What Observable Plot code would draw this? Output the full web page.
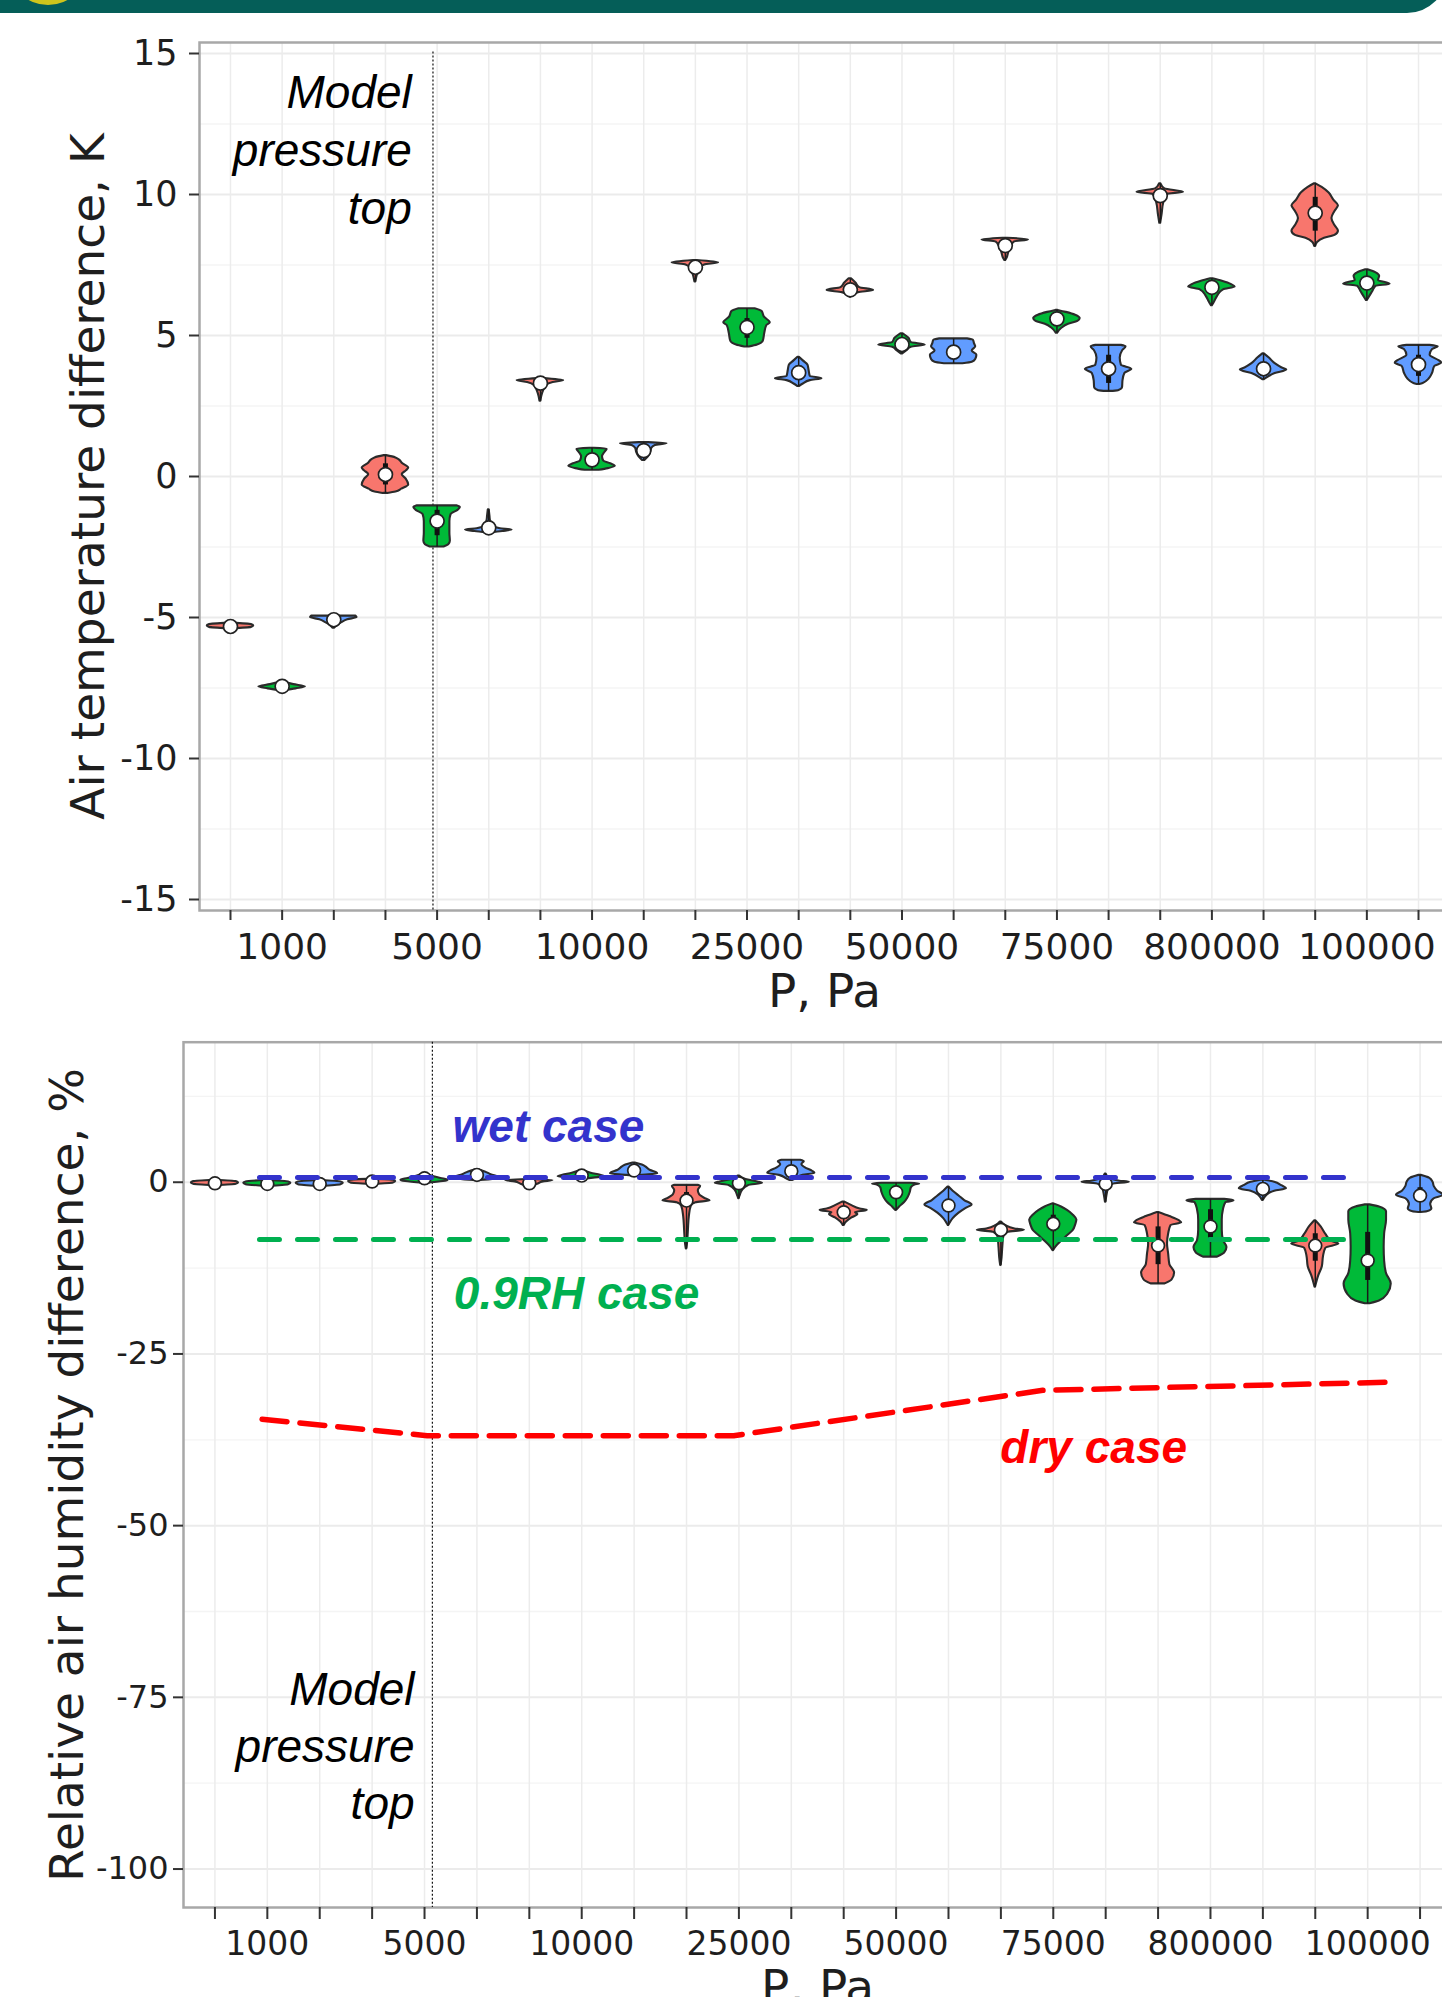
<!DOCTYPE html>
<html>
<head>
<meta charset="utf-8">
<script src="https://cdn.jsdelivr.net/npm/d3@7"></script>
<script src="https://cdn.jsdelivr.net/npm/@observablehq/plot@0.6"></script>
<style>
  html, body { margin: 0; padding: 0; background: #ffffff; overflow: hidden; }
  #page { position: relative; width: 1442px; height: 1997px; overflow: hidden; background: #ffffff; }
  #banner { position: absolute; left: 0; top: -47px; width: 1447px; height: 60px; background: #055e58; border-bottom-right-radius: 40px; z-index: 3; }
  #sun { position: absolute; left: 8px; top: -75px; width: 80px; height: 80px; border-radius: 50%; background: #cfc51c; z-index: 4; }
  #c1 { position: absolute; left: 0; top: 0; }
  #c2 { position: absolute; left: 0; top: 1000px; }
  svg { max-width: none !important; }
</style>
</head>
<body>
<div id="page">
  <div id="banner"></div>
  <div id="sun"></div>
  <div id="c1"></div>
  <div id="c2"></div>
</div>
<script>
// ---------------- DATA ----------------
const levels = ["1000", "5000", "10000", "25000", "50000", "75000", "800000", "100000"];
const casesPerLevel = 3;
const caseColors = ["#F8766D", "#00BA38", "#619CFF"];

// Top panel: air temperature difference, K — violin profiles [value, relative half-width]
const tempProfiles = [
  [[-5.20,0.08],[-5.25,0.9],[-5.30,1.0],[-5.35,0.9],[-5.40,0.08]],
  [[-7.30,0.1],[-7.38,0.5],[-7.46,1.0],[-7.53,0.6],[-7.60,0.1]],
  [[-4.95,0.95],[-5.0,1.0],[-5.08,0.6],[-5.18,0.35],[-5.28,0.15],[-5.38,0.04]],
  [[0.74,0.05],[0.66,0.45],[0.57,0.62],[0.45,0.75],[0.3,1.0],[0.2,0.9],[0.07,0.72],[-0.1,0.9],[-0.3,1.0],[-0.45,0.7],[-0.55,0.45],[-0.6,0.1]],
  [[-1.04,0.85],[-1.1,1.0],[-1.2,0.9],[-1.35,0.6],[-1.6,0.55],[-2.0,0.55],[-2.3,0.57],[-2.42,0.5],[-2.5,0.3]],
  [[-1.18,0.02],[-1.4,0.05],[-1.6,0.08],[-1.75,0.15],[-1.85,0.5],[-1.9,1.0],[-1.95,0.6],[-2.0,0.08]],
  [[3.47,0.08],[3.4,1.0],[3.33,0.55],[3.22,0.25],[3.05,0.14],[2.85,0.06],[2.67,0.02]],
  [[1.0,0.1],[0.97,0.65],[0.85,0.55],[0.7,0.45],[0.55,0.5],[0.45,0.8],[0.36,1.0],[0.28,0.7],[0.22,0.3]],
  [[1.2,0.2],[1.16,1.0],[1.1,0.5],[1.0,0.35],[0.85,0.3],[0.7,0.2],[0.57,0.05]],
  [[7.66,0.08],[7.58,1.0],[7.5,0.4],[7.38,0.2],[7.18,0.1],[6.9,0.02]],
  [[5.95,0.35],[5.85,0.65],[5.65,0.75],[5.45,1.0],[5.35,0.85],[5.06,0.76],[4.8,0.7],[4.66,0.45],[4.59,0.1]],
  [[4.23,0.03],[4.1,0.2],[3.95,0.4],[3.75,0.45],[3.55,0.5],[3.47,1.0],[3.4,0.5],[3.28,0.2],[3.19,0.03]],
  [[7.01,0.05],[6.85,0.25],[6.7,0.4],[6.6,1.0],[6.52,0.35],[6.42,0.1],[6.36,0.02]],
  [[5.06,0.05],[4.9,0.3],[4.75,0.4],[4.66,1.0],[4.58,0.4],[4.45,0.2],[4.35,0.03]],
  [[4.88,0.6],[4.83,0.85],[4.7,0.9],[4.6,0.95],[4.45,0.8],[4.3,1.0],[4.15,0.95],[4.05,0.8],[4.0,0.4]],
  [[8.45,0.1],[8.39,1.0],[8.32,0.4],[8.15,0.25],[7.95,0.15],[7.75,0.08],[7.66,0.02]],
  [[5.89,0.05],[5.82,0.4],[5.72,0.8],[5.6,1.0],[5.5,0.9],[5.4,0.5],[5.25,0.2],[5.08,0.03]],
  [[4.65,0.55],[4.6,0.75],[4.45,0.6],[4.2,0.5],[3.95,0.55],[3.8,1.0],[3.65,0.7],[3.4,0.62],[3.15,0.6],[3.05,0.45],[3.02,0.2]],
  [[10.38,0.03],[10.2,0.2],[10.08,1.0],[10.0,0.3],[9.7,0.15],[9.3,0.08],[8.98,0.02]],
  [[7.01,0.05],[6.92,0.45],[6.8,0.85],[6.72,1.0],[6.62,0.5],[6.4,0.25],[6.2,0.12],[6.06,0.02]],
  [[4.35,0.03],[4.2,0.25],[4.0,0.5],[3.85,0.8],[3.78,1.0],[3.65,0.5],[3.5,0.15],[3.43,0.03]],
  [[10.38,0.03],[10.25,0.3],[10.05,0.6],[9.8,0.8],[9.6,1.0],[9.4,0.85],[9.15,0.72],[8.9,0.85],[8.7,1.0],[8.55,0.85],[8.45,0.4],[8.3,0.1],[8.16,0.02]],
  [[7.33,0.05],[7.22,0.4],[7.1,0.55],[6.95,0.5],[6.82,1.0],[6.75,0.4],[6.55,0.25],[6.35,0.1],[6.24,0.02]],
  [[4.65,0.5],[4.6,0.85],[4.5,0.6],[4.3,0.5],[4.1,0.9],[4.02,1.0],[3.9,0.7],[3.65,0.6],[3.45,0.45],[3.3,0.2],[3.26,0.05]]
];
const tempMedians = [-5.32,-7.44,-5.08,0.07,-1.58,-1.82,3.31,0.59,0.92,7.42,5.29,3.68,6.62,4.68,4.41,8.19,5.59,3.82,9.96,6.71,3.82,9.34,6.86,3.97];
const tempBoxes = [
  [-5.32,-5.32],[-7.44,-7.44],[-5.08,-5.08],[-0.3,0.45],[-2.1,-1.2],[-1.82,-1.82],[3.31,3.31],[0.45,0.8],
  [0.92,0.92],[7.42,7.42],[4.9,5.6],[3.68,3.68],[6.62,6.62],[4.68,4.68],[4.2,4.6],[8.19,8.19],
  [5.4,5.7],[3.3,4.3],[9.96,9.96],[6.71,6.71],[3.82,3.82],[8.7,9.9],[6.86,6.86],[3.55,4.3]
];
const tempYTicks = [-15, -10, -5, 0, 5, 10, 15];
const tempYMinor = [-12.5, -7.5, -2.5, 2.5, 7.5, 12.5];

// Bottom panel: relative air humidity difference, %
const rhProfiles = [
  [[0.3,0.05],[0.1,0.9],[-0.1,1.0],[-0.3,0.9],[-0.5,0.05]],
  [[0.25,0.05],[0.05,0.9],[-0.15,1.0],[-0.35,0.9],[-0.6,0.05]],
  [[0.25,0.05],[0.05,0.9],[-0.15,1.0],[-0.35,0.9],[-0.6,0.05]],
  [[0.45,0.05],[0.3,0.9],[0.1,1.0],[-0.1,0.9],[-0.3,0.05]],
  [[1.3,0.05],[0.9,0.3],[0.55,0.7],[0.3,1.0],[0.1,0.8],[-0.15,0.05]],
  [[1.8,0.05],[1.5,0.35],[1.1,0.6],[0.7,0.95],[0.5,1.0],[0.25,0.1]],
  [[0.4,0.05],[0.25,1.0],[0.05,0.6],[-0.3,0.35],[-0.7,0.05]],
  [[1.7,0.05],[1.3,0.4],[1.0,0.8],[0.8,1.0],[0.6,0.5],[0.4,0.05]],
  [[2.8,0.05],[2.5,0.35],[2.1,0.55],[1.7,0.7],[1.4,0.95],[1.2,1.0],[1.0,0.3],[0.9,0.05]],
  [[-0.45,0.5],[-0.6,0.6],[-1.2,0.5],[-1.8,0.55],[-2.4,0.8],[-2.7,1.0],[-3.0,0.4],[-3.5,0.2],[-5,0.12],[-7,0.08],[-9,0.04],[-9.7,0.01]],
  [[0.9,0.03],[0.4,0.3],[0.05,0.8],[-0.15,1.0],[-0.5,0.4],[-1.2,0.15],[-2.0,0.05],[-2.4,0.01]],
  [[3.2,0.4],[3.0,0.55],[2.6,0.45],[2.1,0.6],[1.6,0.9],[1.3,1.0],[1.0,0.5],[0.5,0.2],[0.25,0.05]],
  [[-2.9,0.05],[-3.4,0.35],[-3.9,0.7],[-4.1,1.0],[-4.4,0.5],[-4.7,0.6],[-5.2,0.35],[-5.8,0.12],[-6.3,0.02]],
  [[-0.15,0.6],[-0.25,1.0],[-0.4,0.8],[-0.8,0.65],[-1.5,0.6],[-2.3,0.5],[-3.0,0.35],[-3.6,0.15],[-4.1,0.02]],
  [[-0.7,0.02],[-1.3,0.2],[-2.0,0.45],[-2.7,0.7],[-3.3,1.0],[-3.8,0.75],[-4.5,0.45],[-5.3,0.2],[-6.0,0.06],[-6.3,0.01]],
  [[-5.8,0.03],[-6.3,0.2],[-6.8,0.6],[-7.0,1.0],[-7.3,0.3],[-8.0,0.12],[-9.5,0.08],[-11,0.05],[-12.1,0.01]],
  [[-3.15,0.03],[-3.6,0.35],[-4.1,0.6],[-4.8,0.85],[-5.5,1.0],[-6.2,0.95],[-7.0,0.85],[-7.8,0.6],[-8.6,0.35],[-9.4,0.12],[-9.95,0.01]],
  [[1.2,0.02],[0.6,0.15],[0.15,0.6],[0.0,1.0],[-0.3,0.3],[-1.0,0.12],[-2.0,0.05],[-2.9,0.01]],
  [[-4.4,0.03],[-5.0,0.5],[-5.6,0.9],[-5.9,1.0],[-6.3,0.55],[-7.5,0.45],[-9,0.4],[-10.5,0.45],[-12,0.5],[-13.2,0.7],[-14.2,0.6],[-14.8,0.3]],
  [[-2.5,0.6],[-2.7,1.0],[-3.0,0.65],[-4.0,0.55],[-5.5,0.5],[-7.0,0.5],[-8.5,0.55],[-9.5,0.7],[-10.3,0.6],[-10.9,0.3]],
  [[0.3,0.1],[0.0,0.5],[-0.5,0.8],[-0.95,1.0],[-1.3,0.5],[-2.0,0.15],[-2.65,0.02]],
  [[-5.6,0.02],[-6.5,0.25],[-7.6,0.45],[-8.6,0.7],[-9.0,1.0],[-9.6,0.45],[-10.8,0.35],[-12.3,0.3],[-13.6,0.15],[-15.3,0.01]],
  [[-3.3,0.1],[-3.6,0.5],[-4.3,0.8],[-5.5,0.8],[-7.5,0.72],[-9.5,0.7],[-11.5,0.72],[-13.3,0.8],[-14.8,1.0],[-16.3,0.85],[-17.3,0.5],[-17.7,0.1]],
  [[1.0,0.05],[0.6,0.4],[0.0,0.55],[-0.6,0.6],[-1.3,0.75],[-1.9,1.0],[-2.4,0.6],[-3.2,0.45],[-3.9,0.5],[-4.3,0.3],[-4.4,0.05]]
];
const rhMedians = [-0.15,-0.25,-0.25,0.1,0.58,1.07,-0.15,0.97,1.7,-2.67,-0.15,1.6,-4.37,-1.46,-3.39,-6.94,-6.06,-0.24,-9.22,-6.45,-0.97,-9.22,-11.4,-1.94];
const rhBoxes = [
  [-0.15,-0.15],[-0.25,-0.25],[-0.25,-0.25],[0.1,0.1],[0.58,0.58],[1.07,1.07],[-0.15,-0.15],[0.97,0.97],
  [1.7,1.7],[-3.5,-1.5],[-0.15,-0.15],[1.6,1.6],[-4.8,-3.9],[-2.5,-0.6],[-4.3,-2.5],[-8.0,-6.8],
  [-7.2,-4.8],[-0.24,-0.24],[-12.0,-6.5],[-8.5,-4.0],[-0.97,-0.97],[-11.5,-7.5],[-14.3,-7.3],[-2.8,-0.8]
];
const rhYTicks = [-100, -75, -50, -25, 0];
const rhYMinor = [-87.5, -62.5, -37.5, -12.5, 12.5];

// Reference case lines (category position, % value)
const wetLine = [[0.85, 0.7], [21.6, 0.7]];
const rh09Line = [[0.85, -8.35], [21.6, -8.35]];
const dryLine = [[0.9, -34.5], [4.05, -36.9], [9.9, -36.9], [15.8, -30.3], [22.5, -29.1]];

// Model pressure top position (category units) in each panel
const modelTopCat = [3.92, 4.15];

// Annotations (category x, value y, text)
const tempNotes = [{x: 3.51, y: 8.96, t: "Model\npressure\ntop"}];
const rhNotes = [{x: 3.81, y: -92.7, t: "Model\npressure\ntop"}];
const caseNotes = [
  {x: 4.535, y: 5.83, t: "wet case", c: "#3333cc"},
  {x: 4.56, y: -18.44, t: "0.9RH case", c: "#00b050"},
  {x: 14.99, y: -40.9, t: "dry case", c: "#ff0000"}
];

// ---------------- DRAWING ----------------
const nCat = levels.length * casesPerLevel;
const catIdx = d3.range(nCat);
const HALF = 0.45;
const xTickFormat = i => (i % casesPerLevel === 1 ? levels[(i - 1) / casesPerLevel] : "");
const hyphenFmt = d => (d < 0 ? "-" + Math.abs(d) : String(d));

function violinMarks(profiles, medians, boxes, dotR) {
  const rows = profiles.flatMap((p, i) => p.map(([y, w]) => ({i, y, w})));
  const whisk = profiles.map((p, i) => ({i, top: p[0][0], bot: p[p.length - 1][0]}));
  const bx = boxes.map(([lo, hi], i) => ({i, lo, hi}));
  const md = medians.map((v, i) => ({i, v}));
  return [
    Plot.areaX(rows, {
      y: "y", x1: d => d.i - d.w * HALF, x2: d => d.i + d.w * HALF, z: "i",
      fill: d => caseColors[d.i % casesPerLevel], stroke: "#2b2b2b", strokeWidth: 2.1,
      strokeLinejoin: "round", curve: "monotone-y"
    }),
    Plot.ruleX(whisk, {x: "i", y1: "top", y2: "bot", stroke: "#1a1a1a", strokeWidth: 1.5}),
    Plot.ruleX(bx, {x: "i", y1: "lo", y2: "hi", stroke: "#111111", strokeWidth: 5}),
    Plot.dot(md, {x: "i", y: "v", r: dotR, fill: "white", stroke: "#222222", strokeWidth: 1.7})
  ];
}

function gridMarks(major, minor) {
  return [
    Plot.gridY({ticks: minor, stroke: "#f4f4f4", strokeOpacity: 1, strokeWidth: 1.3}),
    Plot.gridY({ticks: major, stroke: "#ebebeb", strokeOpacity: 1, strokeWidth: 2}),
    Plot.gridX({ticks: catIdx, stroke: "#ececec", strokeOpacity: 1, strokeWidth: 1.5})
  ];
}

const svgStyle = {fontFamily: "DejaVu Sans", background: "transparent", maxWidth: "none", color: "#222"};

const chartTemp = Plot.plot({
  width: 1450, height: 1030,
  marginLeft: 199, marginRight: 1, marginTop: 42, marginBottom: 120,
  x: {domain: [-0.6, 23.6]},
  y: {domain: [-15.39, 15.39]},
  color: {type: "identity"},
  style: svgStyle,
  marks: [
    ...gridMarks(tempYTicks, tempYMinor),
    Plot.frame({stroke: "#a8a8a8", strokeWidth: 2.5}),
    Plot.ruleX([modelTopCat[0]], {x: d => d, y1: 15.05, y2: -15.39, stroke: "#111", strokeWidth: 1.2, strokeDasharray: "2,2"}),
    ...violinMarks(tempProfiles, tempMedians, tempBoxes, 7),
    Plot.text(tempNotes, {x: "x", y: "y", text: "t", textAnchor: "end", lineAnchor: "bottom", lineHeight: 1.26,
      fontSize: 46, fontStyle: "italic", fontFamily: "Liberation Sans", fill: "#000"}),
    Plot.axisY({ticks: tempYTicks, tickFormat: hyphenFmt, tickSize: 10, tickPadding: 12, fontSize: 35, label: null, stroke: "#333", strokeWidth: 2, fill: "#1e1e1e"}),
    Plot.axisX({ticks: catIdx, tickFormat: xTickFormat, tickSize: 10, tickPadding: 13, fontSize: 36, label: null, stroke: "#333", strokeWidth: 2, fill: "#1e1e1e"}),
    Plot.text(["Air temperature difference, K"], {text: d => d, frameAnchor: "left", textAnchor: "middle", lineAnchor: "middle", rotate: -90, dx: -111, fontSize: 47, fill: "#1e1e1e"}),
    Plot.text(["P, Pa"], {text: d => d, frameAnchor: "bottom", textAnchor: "middle", lineAnchor: "bottom", dy: 96, fontSize: 47, fill: "#1e1e1e"})
  ]
});
document.getElementById("c1").appendChild(chartTemp);

const chartRH = Plot.plot({
  width: 1452, height: 997,
  marginLeft: 183, marginRight: 1, marginTop: 41.7, marginBottom: 90,
  x: {domain: [-0.6, 23.6]},
  y: {domain: [-105.6, 20.39]},
  color: {type: "identity"},
  style: svgStyle,
  marks: [
    ...gridMarks(rhYTicks, rhYMinor),
    Plot.frame({stroke: "#a8a8a8", strokeWidth: 2.5}),
    Plot.ruleX([modelTopCat[1]], {x: d => d, stroke: "#111", strokeWidth: 1.2, strokeDasharray: "2,2"}),
    Plot.line(dryLine, {x: d => d[0], y: d => d[1], stroke: "#ff0000", strokeWidth: 5.5, strokeDasharray: "25,13"}),
    ...violinMarks(rhProfiles, rhMedians, rhBoxes, 6.4),
    Plot.line(wetLine, {x: d => d[0], y: d => d[1], stroke: "#3333cc", strokeWidth: 5, strokeDasharray: "20,18"}),
    Plot.line(rh09Line, {x: d => d[0], y: d => d[1], stroke: "#00b050", strokeWidth: 5, strokeDasharray: "20,18"}),
    Plot.text(rhNotes, {x: "x", y: "y", text: "t", textAnchor: "end", lineAnchor: "bottom", lineHeight: 1.24,
      fontSize: 46, fontStyle: "italic", fontFamily: "Liberation Sans", fill: "#000"}),
    Plot.text(caseNotes, {x: "x", y: "y", text: "t", fill: "c", textAnchor: "start", lineAnchor: "bottom",
      fontSize: 46, fontStyle: "italic", fontWeight: "bold", fontFamily: "Liberation Sans"}),
    Plot.axisY({ticks: rhYTicks, tickFormat: hyphenFmt, tickSize: 10, tickPadding: 5, fontSize: 32, label: null, stroke: "#333", strokeWidth: 2, fill: "#1e1e1e"}),
    Plot.axisX({ticks: catIdx, tickFormat: xTickFormat, tickSize: 12, tickPadding: 12, fontSize: 33, label: null, stroke: "#333", strokeWidth: 2, fill: "#1e1e1e"}),
    Plot.text(["Relative air humidity difference, %"], {text: d => d, frameAnchor: "left", textAnchor: "middle", lineAnchor: "middle", rotate: -90, dx: -116, fontSize: 47, fill: "#1e1e1e"}),
    Plot.text(["P, Pa"], {text: d => d, frameAnchor: "bottom", textAnchor: "middle", lineAnchor: "bottom", dy: 95, fontSize: 47, fill: "#1e1e1e"})
  ]
});
document.getElementById("c2").appendChild(chartRH);
</script>
</body>
</html>
